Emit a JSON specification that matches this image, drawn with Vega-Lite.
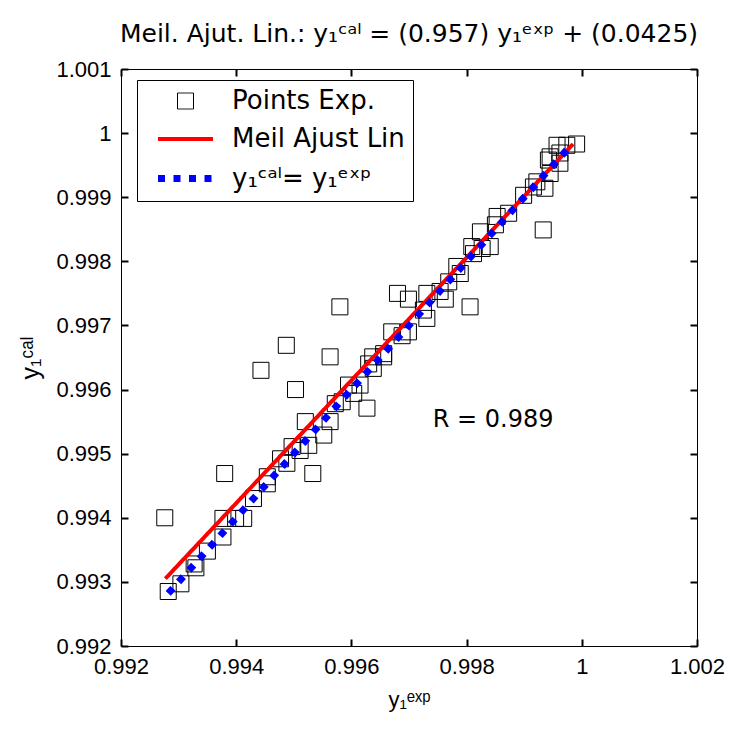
{
  "$schema": "https://vega.github.io/schema/vega-lite/v6.json",
  "autosize": "none",
  "width": 576,
  "height": 577,
  "padding": {"left": 121, "top": 69, "right": 36, "bottom": 83},
  "background": "white",
  "config": {
    "font": "Liberation Sans",
    "view": {"stroke": "black", "strokeWidth": 1},
    "axis": {"grid": false, "domain": false, "labelColor": "black", "titleColor": "black", "labelFont": "Liberation Sans", "titleFont": "Liberation Sans", "zindex": 1}
  },
  "title": {"text": "Meil. Ajut. Lin.:  y₁ᶜᵃˡ = (0.957) y₁ᵉˣᵖ + (0.0425)", "fontSize": 25, "fontWeight": "normal", "font": "DejaVu Sans", "color": "black", "anchor": "middle", "offset": 11},
  "data": {"values": [
    {"x": 0.99282, "y": 0.99285, "s": "Points Exp."},
    {"x": 0.99304, "y": 0.99297, "s": "Points Exp."},
    {"x": 0.99327, "y": 0.99328, "s": "Points Exp."},
    {"x": 0.99330, "y": 0.99322, "s": "Points Exp."},
    {"x": 0.99350, "y": 0.99348, "s": "Points Exp."},
    {"x": 0.99377, "y": 0.99370, "s": "Points Exp."},
    {"x": 0.99377, "y": 0.99399, "s": "Points Exp."},
    {"x": 0.99399, "y": 0.99399, "s": "Points Exp."},
    {"x": 0.99413, "y": 0.99399, "s": "Points Exp."},
    {"x": 0.99430, "y": 0.99430, "s": "Points Exp."},
    {"x": 0.99454, "y": 0.99453, "s": "Points Exp."},
    {"x": 0.99454, "y": 0.99464, "s": "Points Exp."},
    {"x": 0.99477, "y": 0.99492, "s": "Points Exp."},
    {"x": 0.99488, "y": 0.99485, "s": "Points Exp."},
    {"x": 0.99497, "y": 0.99511, "s": "Points Exp."},
    {"x": 0.99511, "y": 0.99505, "s": "Points Exp."},
    {"x": 0.99526, "y": 0.99513, "s": "Points Exp."},
    {"x": 0.99520, "y": 0.99550, "s": "Points Exp."},
    {"x": 0.99552, "y": 0.99529, "s": "Points Exp."},
    {"x": 0.99563, "y": 0.99550, "s": "Points Exp."},
    {"x": 0.99572, "y": 0.99578, "s": "Points Exp."},
    {"x": 0.99584, "y": 0.99581, "s": "Points Exp."},
    {"x": 0.99595, "y": 0.99607, "s": "Points Exp."},
    {"x": 0.99615, "y": 0.99607, "s": "Points Exp."},
    {"x": 0.99604, "y": 0.99594, "s": "Points Exp."},
    {"x": 0.99637, "y": 0.99651, "s": "Points Exp."},
    {"x": 0.99656, "y": 0.99651, "s": "Points Exp."},
    {"x": 0.99638, "y": 0.99633, "s": "Points Exp."},
    {"x": 0.99630, "y": 0.99640, "s": "Points Exp."},
    {"x": 0.99656, "y": 0.99656, "s": "Points Exp."},
    {"x": 0.99670, "y": 0.99690, "s": "Points Exp."},
    {"x": 0.99688, "y": 0.99684, "s": "Points Exp."},
    {"x": 0.99699, "y": 0.99690, "s": "Points Exp."},
    {"x": 0.99699, "y": 0.99741, "s": "Points Exp."},
    {"x": 0.99731, "y": 0.99750, "s": "Points Exp."},
    {"x": 0.99731, "y": 0.99711, "s": "Points Exp."},
    {"x": 0.99763, "y": 0.99741, "s": "Points Exp."},
    {"x": 0.99725, "y": 0.99724, "s": "Points Exp."},
    {"x": 0.99754, "y": 0.99753, "s": "Points Exp."},
    {"x": 0.99769, "y": 0.99768, "s": "Points Exp."},
    {"x": 0.99789, "y": 0.99781, "s": "Points Exp."},
    {"x": 0.99783, "y": 0.99792, "s": "Points Exp."},
    {"x": 0.99809, "y": 0.99823, "s": "Points Exp."},
    {"x": 0.99812, "y": 0.99812, "s": "Points Exp."},
    {"x": 0.99827, "y": 0.99820, "s": "Points Exp."},
    {"x": 0.99841, "y": 0.99823, "s": "Points Exp."},
    {"x": 0.99850, "y": 0.99857, "s": "Points Exp."},
    {"x": 0.99824, "y": 0.99846, "s": "Points Exp."},
    {"x": 0.99873, "y": 0.99875, "s": "Points Exp."},
    {"x": 0.99853, "y": 0.99870, "s": "Points Exp."},
    {"x": 0.99899, "y": 0.99903, "s": "Points Exp."},
    {"x": 0.99916, "y": 0.99916, "s": "Points Exp."},
    {"x": 0.99936, "y": 0.99914, "s": "Points Exp."},
    {"x": 0.99922, "y": 0.99924, "s": "Points Exp."},
    {"x": 0.99945, "y": 0.99937, "s": "Points Exp."},
    {"x": 0.99942, "y": 0.99958, "s": "Points Exp."},
    {"x": 0.99962, "y": 0.99953, "s": "Points Exp."},
    {"x": 0.99962, "y": 0.99969, "s": "Points Exp."},
    {"x": 0.99974, "y": 0.99981, "s": "Points Exp."},
    {"x": 0.99991, "y": 0.99983, "s": "Points Exp."},
    {"x": 0.99957, "y": 0.99981, "s": "Points Exp."},
    {"x": 0.99945, "y": 0.99963, "s": "Points Exp."},
    {"x": 0.99276, "y": 0.99400, "s": "Points Exp."},
    {"x": 0.99380, "y": 0.99469, "s": "Points Exp."},
    {"x": 0.99533, "y": 0.99469, "s": "Points Exp."},
    {"x": 0.99443, "y": 0.99630, "s": "Points Exp."},
    {"x": 0.99487, "y": 0.99669, "s": "Points Exp."},
    {"x": 0.99503, "y": 0.99600, "s": "Points Exp."},
    {"x": 0.99563, "y": 0.99651, "s": "Points Exp."},
    {"x": 0.99580, "y": 0.99729, "s": "Points Exp."},
    {"x": 0.99627, "y": 0.99571, "s": "Points Exp."},
    {"x": 0.99680, "y": 0.99750, "s": "Points Exp."},
    {"x": 0.99806, "y": 0.99729, "s": "Points Exp."},
    {"x": 0.99933, "y": 0.99849, "s": "Points Exp."},
    {"x": 0.99277, "y": 0.99305, "s": "Meil Ajust Lin"},
    {"x": 0.99985, "y": 0.99983, "s": "Meil Ajust Lin"},
    {"x": 0.99282, "y": 0.99282, "s": "y₁ᶜᵃˡ= y₁ᵉˣᵖ"},
    {"x": 0.99982, "y": 0.99982, "s": "y₁ᶜᵃˡ= y₁ᵉˣᵖ"}
  ]},
  "layer": [
    {
      "transform": [{"filter": "datum.s === 'Points Exp.'"}],
      "mark": {"type": "point", "filled": false, "opacity": 1},
      "encoding": {
        "x": {"field": "x", "type": "quantitative", "scale": {"domain": [0.992, 1.002], "nice": false, "zero": false},
          "axis": {"orient": "bottom", "offset": -7, "values": [0.992, 0.994, 0.996, 0.998, 1, 1.002], "labelExpr": "format(datum.value, '.6~g')", "ticks": true, "tickSize": 7, "tickColor": "#000000", "tickWidth": 2, "labelPadding": 10, "labelFontSize": 22, "labelFlush": false, "labelOverlap": false, "labelBound": false,
            "title": "y₁ᵉˣᵖ", "titleFontSize": 22, "titleFontWeight": "normal", "titlePadding": 12}},
        "y": {"field": "y", "type": "quantitative", "scale": {"domain": [0.992, 1.001], "nice": false, "zero": false},
          "axis": {"orient": "left", "offset": -7, "values": [0.992, 0.993, 0.994, 0.995, 0.996, 0.997, 0.998, 0.999, 1, 1.001], "labelExpr": "format(datum.value, '.6~g')", "ticks": true, "tickSize": 7, "tickColor": "#000000", "tickWidth": 2, "labelPadding": 10, "labelFontSize": 22, "labelFlush": false, "labelOverlap": false, "labelBound": false,
            "title": "y₁ᶜᵃˡ", "titleFontSize": 25, "titleFontWeight": "normal", "titlePadding": 12}},
        "color": {"field": "s", "type": "nominal",
          "scale": {"domain": ["Points Exp.", "Meil Ajust Lin", "y₁ᶜᵃˡ= y₁ᵉˣᵖ"], "range": ["#000000", "#ff0000", "#0000ff"]},
          "legend": {
            "title": null, "orient": "none", "legendX": 16, "legendY": 11,
            "strokeColor": "black", "fillColor": "white", "padding": 8,
            "labelFontSize": 26, "labelFont": "DejaVu Sans", "labelColor": "black", "labelLimit": 400,
            "symbolOffset": 26, "labelOffset": 32, "rowPadding": 12
          }},
        "shape": {"field": "s", "type": "nominal",
          "scale": {"domain": ["Points Exp.", "Meil Ajust Lin", "y₁ᶜᵃˡ= y₁ᵉˣᵖ"], "range": ["square", "M-2.86,0H2.86", "M-2.5,0H2.5"]}},
        "size": {"field": "s", "type": "nominal",
          "scale": {"domain": ["Points Exp.", "Meil Ajust Lin", "y₁ᶜᵃˡ= y₁ᵉˣᵖ"], "range": [256, 484]}},
        "strokeWidth": {"field": "s", "type": "nominal",
          "scale": {"domain": ["Points Exp.", "Meil Ajust Lin", "y₁ᶜᵃˡ= y₁ᵉˣᵖ"], "range": [1, 7]}}
      }
    },
    {
      "transform": [{"filter": "datum.s === 'Meil Ajust Lin'"}],
      "mark": {"type": "line", "strokeCap": "butt"},
      "encoding": {
        "x": {"field": "x", "type": "quantitative", "axis": null},
        "y": {"field": "y", "type": "quantitative", "axis": null},
        "color": {"field": "s", "type": "nominal"},
        "strokeWidth": {"field": "s", "type": "nominal"},
        "strokeDash": {"field": "s", "type": "nominal",
          "scale": {"domain": ["Points Exp.", "Meil Ajust Lin", "y₁ᶜᵃˡ= y₁ᵉˣᵖ"], "range": [[1, 0], [1, 0], [7, 8.5]]}}
      }
    },
    {
      "transform": [{"filter": "datum.s === 'y₁ᶜᵃˡ= y₁ᵉˣᵖ'"}],
      "mark": {"type": "line", "strokeCap": "butt"},
      "encoding": {
        "x": {"field": "x", "type": "quantitative", "axis": null},
        "y": {"field": "y", "type": "quantitative", "axis": null},
        "color": {"field": "s", "type": "nominal"},
        "strokeWidth": {"field": "s", "type": "nominal"},
        "strokeDash": {"field": "s", "type": "nominal"}
      }
    },
    {
      "data": {"values": [{"x": 0.99846, "y": 0.99552, "label": "R = 0.989"}]},
      "mark": {"type": "text", "fontSize": 24, "font": "DejaVu Sans", "color": "black", "align": "center", "baseline": "middle"},
      "encoding": {
        "x": {"field": "x", "type": "quantitative", "axis": {"orient": "top", "offset": -7, "values": [0.992, 0.994, 0.996, 0.998, 1, 1.002], "labels": false, "title": null, "ticks": true, "tickSize": 7, "tickColor": "#000000", "tickWidth": 2}},
        "y": {"field": "y", "type": "quantitative", "axis": {"orient": "right", "offset": -7, "values": [0.992, 0.993, 0.994, 0.995, 0.996, 0.997, 0.998, 0.999, 1, 1.001], "labels": false, "title": null, "ticks": true, "tickSize": 7, "tickColor": "#000000", "tickWidth": 2}},
        "text": {"field": "label"}
      }
    }
  ]
}
